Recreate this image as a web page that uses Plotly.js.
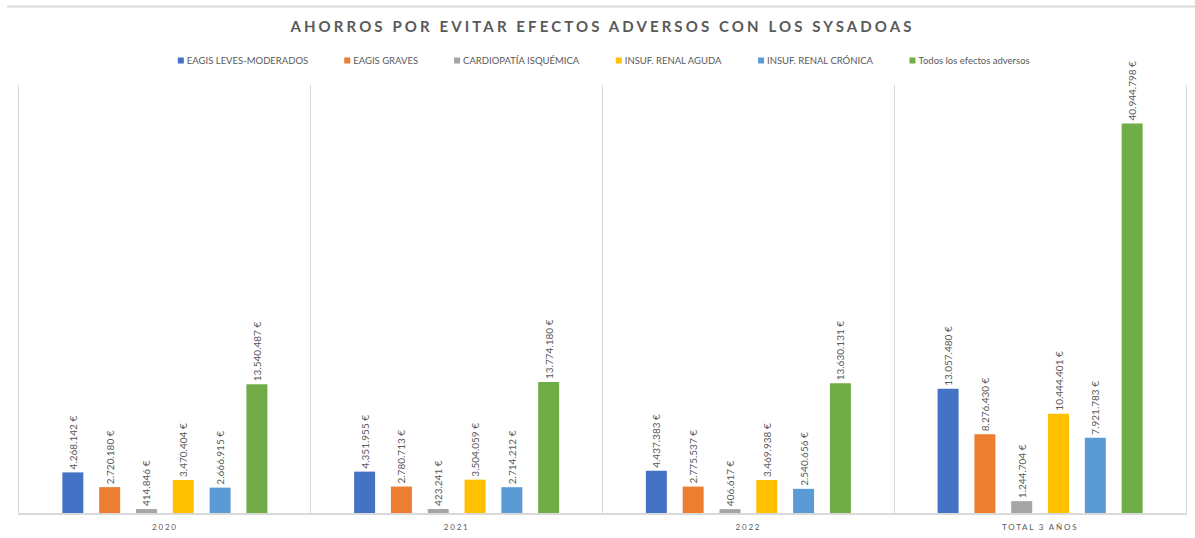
<!DOCTYPE html>
<html>
<head>
<meta charset="utf-8">
<script src="https://cdn.plot.ly/plotly-3.0.1.min.js"></script>
<style>
  html, body { margin: 0; padding: 0; background: #fff; }
  #chart { width: 1195px; height: 538px; }
  .gtitle { letter-spacing: 3.1px; }
  .xtick text { letter-spacing: 1.8px; }
  .legendpoints path { transform: translate(34px, 0px) scale(0.5); }
</style>
</head>
<body>
<div id="chart"></div>
<script>
const categories = ['2020', '2021', '2022', 'TOTAL 3 AÑOS'];

const seriesNames = [
  'EAGIS LEVES-MODERADOS',
  'EAGIS GRAVES',
  'CARDIOPATÍA ISQUÉMICA',
  'INSUF. RENAL AGUDA',
  'INSUF. RENAL CRÓNICA',
  'Todos los efectos adversos'
];

const eagisLeves      = [4268142, 4351955, 4437383, 13057480];
const eagisGraves     = [2720180, 2780713, 2775537, 8276430];
const cardiopatia     = [414846, 423241, 406617, 1244704];
const insufAguda      = [3470404, 3504059, 3469938, 10444401];
const insufCronica    = [2666915, 2714212, 2540656, 7921783];
const todosEfectos    = [13540487, 13774180, 13630131, 40944798];

const seriesValues = [eagisLeves, eagisGraves, cardiopatia, insufAguda, insufCronica, todosEfectos];
const seriesColors = ['#4472C4', '#ED7D31', '#A5A5A5', '#FFC000', '#5B9BD5', '#70AD47'];

const FONT = 'Lato, "Open Sans", "DejaVu Sans", sans-serif';

const traces = seriesNames.map((name, i) => ({
  type: 'bar',
  name: name,
  x: categories,
  y: seriesValues[i],
  marker: { color: seriesColors[i], line: { width: 0 } },
  texttemplate: '%{y:,.0f} €',
  textposition: 'outside',
  textangle: -90,
  constraintext: 'none',
  cliponaxis: false,
  textfont: { family: FONT, size: 10, color: '#595959' },
  hovertemplate: '%{x}<br>' + name + ': %{y:,.0f} €<extra></extra>'
}));

const layout = {
  width: 1195,
  height: 538,
  margin: { l: 19, r: 9, t: 84.5, b: 25 },
  paper_bgcolor: '#ffffff',
  plot_bgcolor: '#ffffff',
  separators: ',.',
  font: { family: FONT, color: '#595959' },
  title: {
    text: 'AHORROS POR EVITAR EFECTOS ADVERSOS CON LOS SYSADOAS',
    font: { family: FONT, size: 15, color: '#595959', weight: 'bold' },
    x: 0.5, xref: 'paper', xanchor: 'center',
    y: 0.95, yref: 'container', yanchor: 'middle'
  },
  barmode: 'group',
  bargap: 0.243,
  bargroupgap: 0.43,
  showlegend: true,
  legend: {
    orientation: 'h',
    x: 0.49, xanchor: 'center',
    y: 1.057, yanchor: 'middle',
    font: { family: FONT, size: 9.5, color: '#595959' },
    traceorder: 'normal',
    itemclick: false
  },
  xaxis: {
    type: 'category',
    tickson: 'boundaries',
    showgrid: true,
    gridcolor: '#d9d9d9',
    gridwidth: 1,
    showline: true,
    linecolor: '#d9d9d9',
    linewidth: 1.5,
    ticks: '',
    ticklabelstandoff: 6,
    tickfont: { family: FONT, size: 8, color: '#595959' },
    fixedrange: true
  },
  yaxis: {
    range: [0, 45000000],
    showgrid: false,
    zeroline: false,
    showticklabels: false,
    showline: true,
    mirror: true,
    linecolor: '#d9d9d9',
    linewidth: 1,
    ticks: '',
    fixedrange: true
  },
  shapes: [{
    type: 'line',
    xref: 'paper', yref: 'paper',
    x0: -0.0103, x1: 1.0077,
    y0: 1.1832, y1: 1.1832,
    line: { color: '#d9d9d9', width: 2 }
  }]
};

Plotly.newPlot('chart', traces, layout, { displayModeBar: false, responsive: false });
</script>
</body>
</html>
